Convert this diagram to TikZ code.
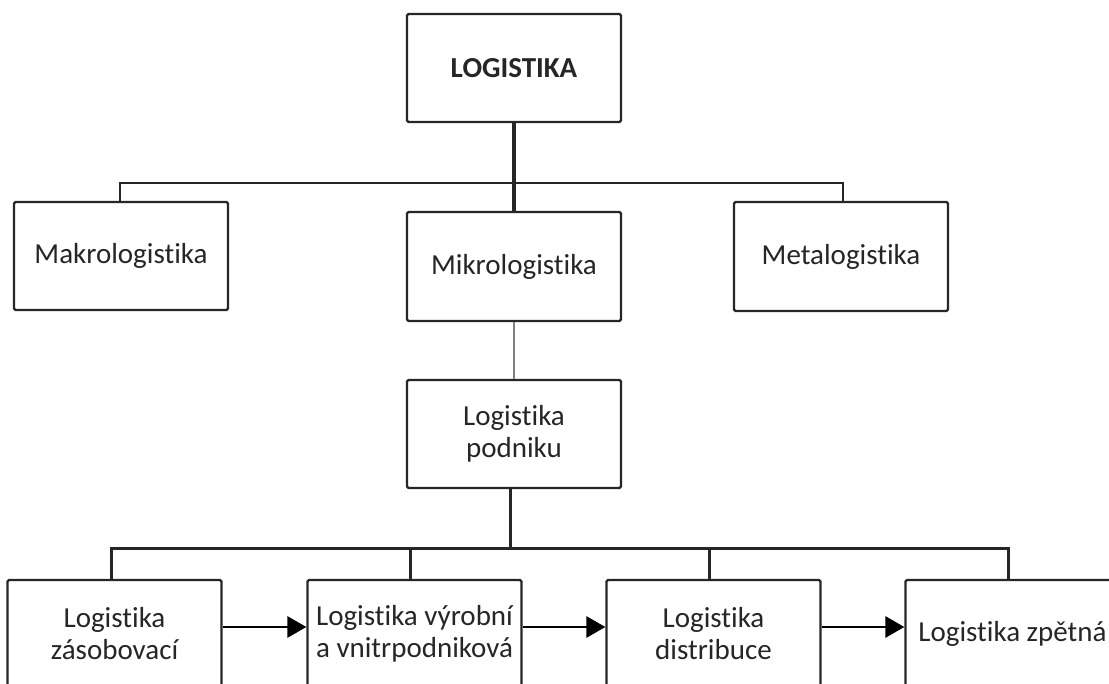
\documentclass[tikz,border=0pt]{standalone}
\usepackage{fontspec}
\setmainfont{Carlito}[RawFeature={-liga;-clig;-calt;-dlig;-hlig}]
\usetikzlibrary{arrows.meta}

\tikzset{
  box/.style={draw=black!85, line width=2.2pt, rounded corners=1.5pt, fill=white,
    minimum width=214pt, minimum height=108pt, inner sep=0pt, align=center,
    text=black!85, font=\fontsize{29}{32}\selectfont},
  bus/.style={draw=black!85, line width=2.2pt},
  flow/.style={draw=black, line width=2.8pt, -{Triangle[length=19pt,width=21pt]}}
}

\begin{document}
\begin{tikzpicture}[x=1pt,y=-1pt]
      \useasboundingbox (0,0) rectangle (1109,684);
      \clip (0,0) rectangle (1109,684);

      % TOP
      \node[box] (log) at (514,68) {\textbf{LOGISTIKA}};
      \node[box] (makro) at (121,256) {Makrologistika};
      \node[box, minimum height=109pt] (mikro) at (514,266.5) {Mikrologistika};
      \node[box, minimum height=109pt] (meta) at (841,256.5) {Metalogistika};
      \node[box] (podnik) at (514,434) {Logistika\\podniku};
      \coordinate (topbus) at (514,183);

      \draw[bus] (makro.north -| 120,0) |- (topbus) -| (meta.north -| 843,0);
      \draw[bus, line width=4.5pt] (log.south) -- (mikro.north);
      \draw[bus, draw=black!50] (mikro.south) -- (podnik.north);

      % BOTTOM
      \node[box] (zas) at (114.5,634) {Logistika\\zásobovací};
      \node[box] (vyr) at (414.5,634) {Logistika výrobní\\a vnitrpodniková};
      \node[box] (dist) at (713.5,634) {Logistika\\distribuce};
      \node[box] (zpet) at (1012.5,634) {Logistika zpětná};
      \coordinate (botbus) at (510,548);

      \draw[bus, line width=3pt] (podnik.south -| botbus) -- (botbus);
      \draw[bus, line width=3pt] (zas.north -| 111,0) |- (botbus) -| (zpet.north -| 1008,0);
      \draw[bus, line width=3pt] (vyr.north -| 410,0) -- (410,548);
      \draw[bus, line width=3pt] (dist.north -| 709,0) -- (709,548);

      \draw[flow] ([yshift=7pt]zas.east) -- ([yshift=7pt]vyr.west);
      \draw[flow] ([yshift=7pt]vyr.east) -- ([yshift=7pt]dist.west);
      \draw[flow] ([yshift=7pt]dist.east) -- ([yshift=7pt]zpet.west);
\end{tikzpicture}
\end{document}
